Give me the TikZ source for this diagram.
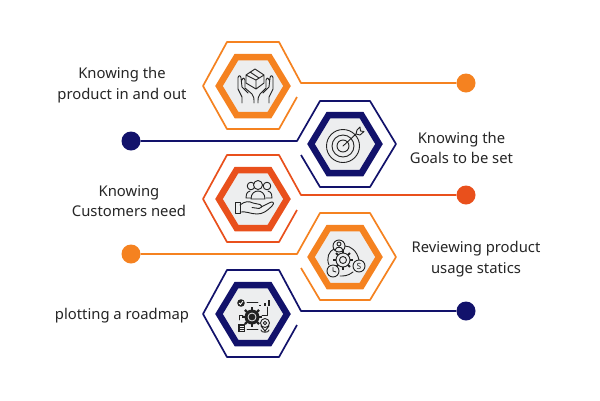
\documentclass[tikz,border=0pt]{standalone}
\usepackage{fontspec}
\setmainfont{Noto Sans}
\definecolor{cOrange}{HTML}{F58220}
\definecolor{cNavy}{HTML}{12126B}
\definecolor{cRed}{HTML}{E9501C}
\definecolor{cFill}{HTML}{EDEEEF}
\definecolor{cInk}{HTML}{222222}
\tikzset{
  thinhex/.style={line width=1.7pt,line join=round},
  thickhex/.style={line width=6.5pt,line join=miter,fill=cFill},
  enddot/.style={circle,minimum size=19pt,inner sep=0pt},
  lbl/.style={align=center,font=\fontsize{14.8}{20.5}\selectfont,text=black!85,inner sep=0pt},
  ico/.style={draw=cInk,line width=0.9pt,line cap=round,line join=round},
}
% #1 colour, #2 cx, #3 cy
\newcommand{\thickhexagon}[3]{%
  \draw[thickhex,draw=#1] (#2-34,#3) -- (#2-16.5,#3-29) -- (#2+16.5,#3-29) -- (#2+34,#3) -- (#2+16.5,#3+29) -- (#2-16.5,#3+29) -- cycle;}
\begin{document}
\begin{tikzpicture}[x=1pt,y=-1pt]
\useasboundingbox (0,0) rectangle (600,400);
\fill[white] (0,0) rectangle (600,400);
% dots
\node[enddot,fill=cOrange] (d1) at (466,83) {};
\node[enddot,fill=cNavy] (d2) at (131,141) {};
\node[enddot,fill=cRed] (d3) at (466,195) {};
\node[enddot,fill=cOrange] (d4) at (131,254) {};
\node[enddot,fill=cNavy] (d5) at (466,311) {};
% junctions
\coordinate (j1) at (301,83);
\coordinate (j2) at (297,141);
\coordinate (j3) at (301,195);
\coordinate (j4) at (297,254);
\coordinate (j5) at (301,311);
% outer hexagons with connectors
\draw[thinhex,draw=cOrange] (297,97) -- (279,129) -- (227,129) -- (203,86) -- (227,42) -- (279,42) -- (j1) -- (d1);
\draw[thinhex,draw=cNavy] (301,155) -- (320,187) -- (370,187) -- (396,144) -- (370,101) -- (320,101) -- (j2) -- (d2);
\draw[thinhex,draw=cRed] (297,210) -- (279,242) -- (227,242) -- (203,199) -- (227,155) -- (279,155) -- (j3) -- (d3);
\draw[thinhex,draw=cOrange] (301,268) -- (320,300) -- (370,300) -- (396,257) -- (370,213) -- (320,213) -- (j4) -- (d4);
\draw[thinhex,draw=cNavy] (297,325) -- (279,357) -- (227,357) -- (203,314) -- (227,270) -- (279,270) -- (j5) -- (d5);
% inner hexagons
\thickhexagon{cOrange}{253}{86}
\thickhexagon{cNavy}{345}{144}
\thickhexagon{cRed}{253}{199}
\thickhexagon{cOrange}{345}{257}
\thickhexagon{cNavy}{253}{314}
% icon 1: box in hands
\begin{scope}[shift={(253,86)}]
  \draw[ico] (2,-17) -- (11,-11) -- (11,-3) -- (3,3) -- (-7,-3) -- (-7,-11) -- cycle (-7,-11) -- (3,-6) -- (11,-11) (3,-6) -- (3,3) (-3,-14) -- (6,-8);
  \draw[ico] (-11,17) -- (-11,11) -- (-15,3) -- (-15,-8) .. controls (-15,-11) and (-12,-11) .. (-12,-8) -- (-11,1) -- (-5,7) (-11,-6) .. controls (-10,-9) and (-8,-8) .. (-8,-6) -- (-8,1) (-8,2) -- (-1,8) .. controls (1,10) and (1,13) .. (1,17);
  \draw[ico] (16,17) -- (16,11) -- (20,3) -- (20,-8) .. controls (20,-11) and (17,-11) .. (17,-8) -- (16,1) -- (10,7) (16,-6) .. controls (15,-9) and (13,-8) .. (13,-6) -- (13,1) (13,2) -- (7,8) .. controls (5,10) and (5,13) .. (5,17);
\end{scope}
% icon 2: target
\begin{scope}[shift={(345,144)}]
  \draw[ico] (-2,2) circle (16.5pt) (-2,2) circle (11pt) (-2,2) circle (6pt);
  \draw[ico] (-2,2) -- (11,-10) (11,-10) -- (12,-14) -- (15,-17) -- (15.5,-13) -- (19,-12.5) -- (15,-9) -- (11,-10);
\end{scope}
% icon 3: people and hand
\begin{scope}[shift={(253,199)}]
  \draw[ico] (-2,-13) circle (3.8pt) (14,-13) circle (3.8pt);
  \draw[ico] (-3,-8) .. controls (-7,-7) and (-7,-3) .. (-7,-1) -- (-1,-1) (15,-8) .. controls (19,-7) and (19,-3) .. (19,-1) -- (13,-1);
  \draw[ico,fill=cFill] (5,-14) circle (4.5pt);
  \draw[ico,fill=cFill] (-2,0) .. controls (-2,-6) and (2,-8) .. (5,-8) .. controls (8,-8) and (12,-6) .. (12,0) -- cycle;
  \draw[ico] (-18,3) -- (-13,3) -- (-13,14) -- (-18,14) -- cycle;
  \draw[ico] (-13,6) .. controls (-8,2) and (-4,2) .. (0,4) -- (7,5.5) .. controls (10,7) and (8,10) .. (6,9.5) -- (-1,8.5) (8,8) -- (17,3.5) .. controls (20,2) and (22,4) .. (19,7) .. controls (14,12) and (10,15) .. (4,15) .. controls (-2,15) and (-7,12) .. (-13,13);
\end{scope}
% icon 4: gear with person, dollar, clock
\begin{scope}[shift={(345,257)}]
  \draw[ico] (0,-11) .. controls (6,-11) and (12,-6) .. (14,3) (8,15) .. controls (3,19) and (-1,19) .. (-5,19) (-16,8) .. controls (-19,1) and (-16,-6) .. (-11,-8);
  \draw[ico] (-2,3) circle (7pt) (-2,3) circle (3.5pt);
  \foreach \a in {0,45,...,315}{\draw[cInk,line width=2pt] (-2,3) ++(\a:6.8pt) -- ++(\a:3pt);}
  \draw[ico,fill=cFill] (-6,-11) circle (6pt);
  \draw[ico] (-6,-13) circle (2pt) (-9.5,-7.5) .. controls (-9,-10.5) and (-3,-10.5) .. (-2.5,-7.5);
  \draw[ico,fill=cFill] (14,9) circle (6pt);
  \node[inner sep=0pt,font=\fontsize{8.5}{9}\selectfont\bfseries,text=cInk] (dollarsign) at (14,9) {S};
  \draw[ico,fill=cFill] (-12,14) circle (6pt);
  \draw[ico] (-12,10.5) -- (-12,14) -- (-9,15);
\end{scope}
% icon 5: roadmap
\begin{scope}[shift={(253,314)}]
  \fill[cInk] (-12,-11) circle (3.8pt);
  \draw[white,line width=0.8pt] (-14,-11) -- (-12.5,-9.5) -- (-10,-13);
  \draw[ico] (-6,-12) -- (5,-12) (-14,6) -- (-14,1) -- (-10,1) (14,-7) -- (14,1) -- (9,1) (-6,15) -- (5,15);
  \draw[cInk,line width=1.4pt] (7,-9) -- (7,-8) (12,-11) -- (12,-8) (16,-14) -- (16,-8);
  \foreach \a in {0,45,...,315}{\draw[cInk,line width=2.4pt] (-1,3) ++(\a:7pt) -- ++(\a:3pt);}
  \fill[cInk] (-1,3) circle (7.5pt);
  \draw[cFill,line width=0.8pt] (-1,3) circle (4pt);
  \fill[cInk] (-15,10) rectangle (-8,18);
  \draw[cFill,line width=0.8pt] (-13.5,12) -- (-9.5,12) (-13.5,14) -- (-9.5,14) (-13.5,16) -- (-9.5,16);
  \draw[ico] (12,9) circle (4.5pt) (12,9) circle (1.7pt) (8,12) -- (12,17) -- (16,12) (8,16) .. controls (8,19) and (16,19) .. (16,16);
\end{scope}
% labels
\node[lbl] (t1) at (122,85) {Knowing the\\product in and out};
\node[lbl] (t2) at (461.5,148) {Knowing the\\Goals to be set};
\node[lbl] (t3) at (129,201) {Knowing\\Customers need};
\node[lbl] (t4) at (476,259) {Reviewing product\\usage statics};
\node[lbl] (t5) at (122,316) {plotting a roadmap};
\end{tikzpicture}
\end{document}
